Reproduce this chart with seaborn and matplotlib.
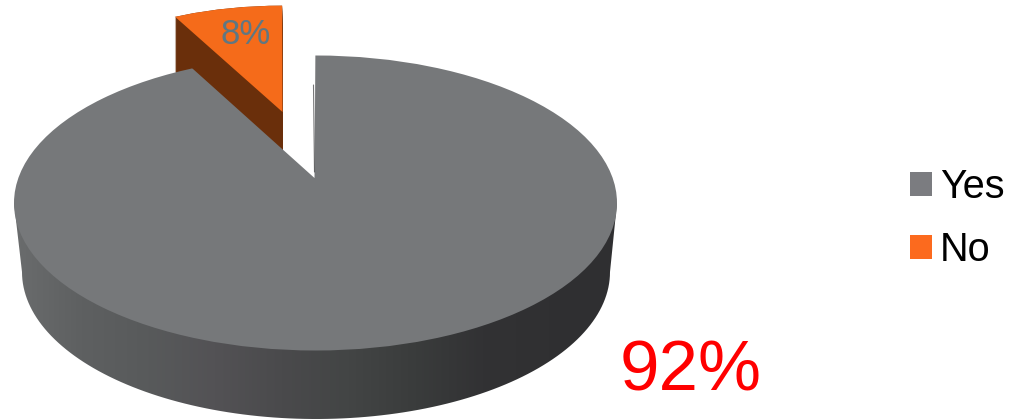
import matplotlib
matplotlib.use("Agg")
import matplotlib.pyplot as plt
from matplotlib.patches import Ellipse, Patch, Polygon
import numpy as np
import seaborn as sns

labels = ["Yes", "No"]
values = [92, 8]
top_colors = ["#76787a", "#f56b1a"]
legend_colors = ["#7b7c80", "#fc6a1e"]
side_orange = "#6a2f0b"
wall_colors = ["#6a6c6d", "#5e6061", "#585a5b", "#535255", "#4a4a4c", "#434545", "#3a3c3c", "#323234", "#303032", "#2f2f31"]

W, H = 1011, 419
# top ellipse of the pie, in pixels
cx, cy, a, b = 315.5, 203, 301.5, 147.5


def ux(px):
    return (px - cx) / a


def uy(py):
    return (cy - py) / b


sns.set_theme(style="white")
plt.rcParams["font.family"] = ["Liberation Sans", "DejaVu Sans"]

fig = plt.figure(figsize=(W / 100, H / 100), dpi=100)
ax = fig.add_axes([0, 0, 1, 1])


def wedge_pie(apex_x, apex_y, start, zorder, colors):
    wedges, _ = ax.pie(values, colors=colors, startangle=start, counterclock=False,
                       center=(ux(apex_x), uy(apex_y)), radius=3,
                       wedgeprops={"linewidth": 0, "zorder": zorder})
    return wedges


def clip_to(wedge, ex, ey, scale):
    # pie wedges are not clipped by default
    wedge.set_clip_on(True)
    wedge.set_clip_path(Ellipse((ux(ex), uy(ey)), 2 * scale, 2 * scale, transform=ax.transData))


# exploded slice: side wall stacked down, then the top face
for dz in range(0, 56):
    w = wedge_pie(282.5, 112 + dz, 90.1, 1, ["white", side_orange])
    w[0].set_visible(False)
    clip_to(w[1], 282, 134 + dz, 0.87)
w = wedge_pie(282.5, 112, 90.1, 2, ["white", top_colors[1]])
w[0].set_visible(False)
clip_to(w[1], 282, 134, 0.87)

# side wall of the big slice, shaded from left to right
wall_cmap = sns.blend_palette(wall_colors, as_cmap=True)
t = np.radians(np.linspace(180, 360, 120))
wall_x = ux(316) + np.cos(t) * 294 / a
wall_y = uy(272) + np.sin(t) * 147 / b
wall_pts = [(ux(14), uy(203))] + list(zip(wall_x, wall_y)) + [(ux(617), uy(203))]
wall = Polygon(wall_pts, closed=True, transform=ax.transData, facecolor="none", edgecolor="none")
ax.add_patch(wall)
img = ax.imshow(np.linspace(0, 1, 256).reshape(1, -1), cmap=wall_cmap, aspect="auto",
                extent=(ux(14), ux(617), uy(425), uy(190)), zorder=3)
img.set_clip_path(wall)

# top face of the big slice
w = wedge_pie(314.5, 178, 89.8, 4, [top_colors[0], "white"])
w[1].set_visible(False)
clip_to(w[0], cx, cy, 1.0)

# thin edge of the cut
ax.plot([ux(313.5), ux(314.5)], [uy(85), uy(172)], color="#3c3c3e", lw=0.8, alpha=0.7, zorder=5)

ax.set_aspect("auto")
ax.set_xlim(ux(0), ux(W))
ax.set_ylim(uy(H), uy(0))
ax.axis("off")

fig.text(245.5 / W, 1 - 43.5 / H, f"{values[1]}%", fontsize=25, color="#5f7782",
         ha="center", va="baseline", zorder=6)
fig.text(690.5 / W, 1 - 390 / H, f"{values[0]}%", fontsize=51, color="#ff0000",
         ha="center", va="baseline")

handles = [Patch(facecolor=c, edgecolor="none") for c in legend_colors]
fig.legend(handles, labels, loc="upper left", bbox_to_anchor=(910 / W, 1 - 168 / H),
           frameon=False, fontsize=28.5, labelcolor="black", handlelength=0.556, handleheight=0.556,
           handletextpad=0.2, labelspacing=0.62, borderpad=0, borderaxespad=0)

fig.savefig("out.png", dpi=100)
